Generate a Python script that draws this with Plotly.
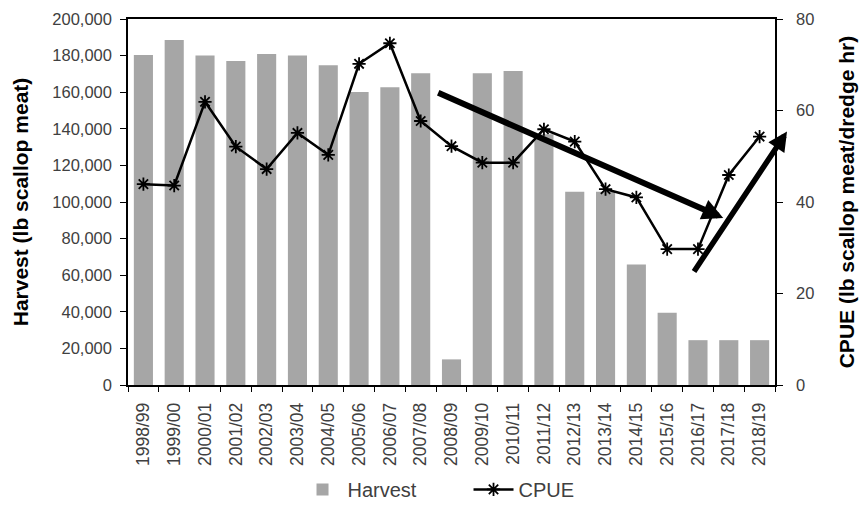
import plotly.graph_objects as go

seasons = ["1998/99", "1999/00", "2000/01", "2001/02", "2002/03", "2003/04", "2004/05",
           "2005/06", "2006/07", "2007/08", "2008/09", "2009/10", "2010/11", "2011/12",
           "2012/13", "2013/14", "2014/15", "2015/16", "2016/17", "2017/18", "2018/19"]
harvest = [180300, 188500, 180000, 177000, 180900, 180000, 174700,
           160100, 162700, 170300, 14000, 170300, 171600, 137000,
           105600, 105600, 65800, 39500, 24500, 24500, 24500]
cpue = [43.9, 43.6, 61.9, 52.1, 47.2, 55.1, 50.3,
        70.2, 74.7, 57.7, 52.2, 48.6, 48.6, 55.9,
        53.2, 42.8, 41.0, 29.7, 29.7, 45.9, 54.3]

FONT = "Liberation Sans, Arial, sans-serif"
TXT = "#404040"

fig = go.Figure()
fig.add_trace(go.Bar(x=seasons, y=harvest, name="Harvest",
                     marker=dict(color="#A6A6A6", line=dict(width=0)),
                     yaxis="y"))
fig.add_trace(go.Scatter(x=seasons, y=cpue, name="CPUE", mode="lines+markers",
                         line=dict(color="black", width=2.5),
                         marker=dict(symbol="asterisk-open", size=11,
                                     line=dict(color="black", width=1.8)),
                         yaxis="y2"))

# trend arrows (annotation arrows, data referenced)
arrows = [
    dict(x=18.82, y=36.5, ax=9.52, ay=64.0, w=6),
    dict(x=20.89, y=55.4, ax=17.84, ay=24.5, w=5.5),
]
for a in arrows:
    fig.add_annotation(x=a["x"], y=a["y"], ax=a["ax"], ay=a["ay"],
                       xref="x", yref="y2", axref="x", ayref="y2",
                       showarrow=True, arrowhead=2, arrowsize=0.7,
                       arrowwidth=a["w"], arrowcolor="black", text="")

fig.update_layout(
    width=859, height=506,
    margin=dict(l=128, r=84, t=19, b=121, autoexpand=False),
    plot_bgcolor="white", paper_bgcolor="white",
    font=dict(family=FONT, size=16, color=TXT),
    bargap=0.38,
    showlegend=True,
    legend=dict(orientation="h", x=0.262, xanchor="left", y=-0.232, yanchor="top",
                font=dict(size=20, color=TXT), itemwidth=40,
                entrywidth=116, entrywidthmode="pixels",
                traceorder="normal"),
    xaxis=dict(type="category", tickangle=-90, showline=True, linecolor="black",
               linewidth=1.5, mirror=True, ticks="outside", tickson="boundaries",
               ticklen=5, tickcolor="black", showgrid=False, ticklabelstandoff=9,
               tickfont=dict(size=17.5, color=TXT), range=[-0.5, 20.5]),
    yaxis=dict(range=[0, 200000], dtick=20000, tickformat=",", showline=True,
               linecolor="black", linewidth=1.5, ticks="outside", ticklen=6,
               tickcolor="black", showgrid=False, zeroline=False,
               ticklabelstandoff=5,
               tickfont=dict(size=16.5, color=TXT),
               title=dict(text="<b>Harvest (lb scallop meat)</b>",
                          font=dict(size=21, color="black"), standoff=18)),
    yaxis2=dict(range=[0, 80], dtick=20, overlaying="y", side="right",
                showline=True, linecolor="black", linewidth=1.5, ticks="outside",
                ticklen=6, tickcolor="black", showgrid=False, zeroline=False,
                ticklabelstandoff=10,
                tickfont=dict(size=16.5, color=TXT),
                title=dict(text="<b>CPUE (lb scallop meat/dredge hr)</b>",
                           font=dict(size=21, color="black"), standoff=26)),
)

fig.write_html("out.html", config={"displayModeBar": False},
               post_script="document.body.style.margin='0';document.body.style.overflow='hidden';")
